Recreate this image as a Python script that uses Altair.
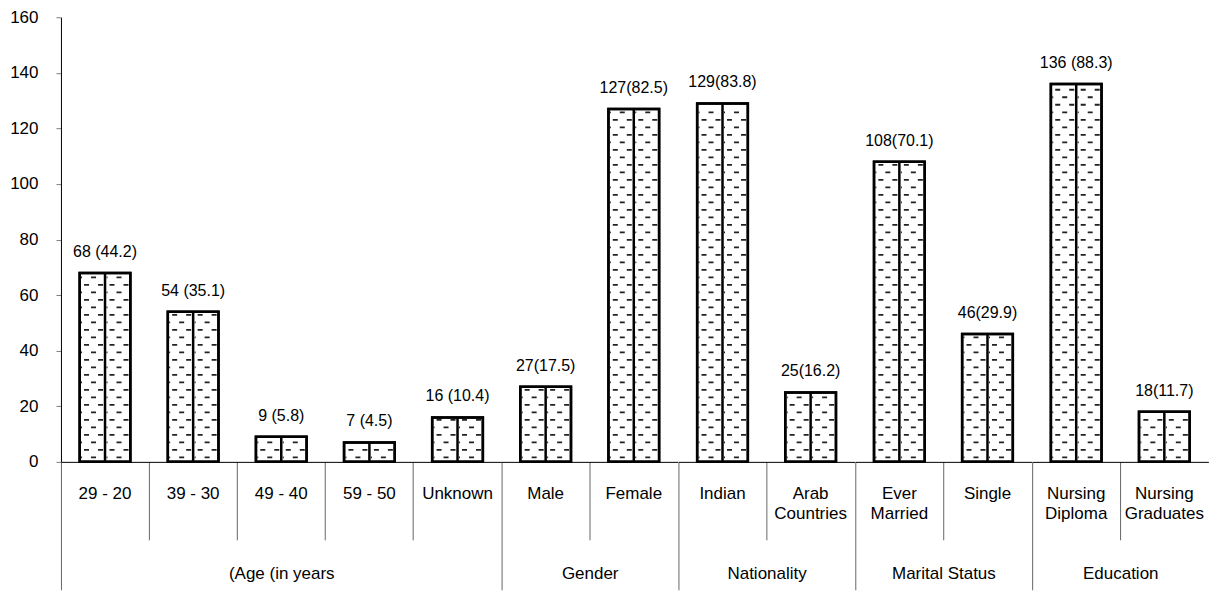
import altair as alt
import pandas as pd

categories = ["29 - 20", "39 - 30", "49 - 40", "59 - 50", "Unknown",
              "Male", "Female", "Indian", "Arab Countries",
              "Ever Married", "Single", "Nursing Diploma", "Nursing Graduates"]
groups = ["(Age (in years"] * 5 + ["Gender"] * 2 + ["Nationality"] * 2 + \
         ["Marital Status"] * 2 + ["Education"] * 2
counts = [68, 54, 9, 7, 16, 27, 127, 129, 25, 108, 46, 136, 18]
bar_labels = ["68 (44.2)", "54 (35.1)", "9 (5.8)", "7 (4.5)", "16 (10.4)",
              "27(17.5)", "127(82.5)", "129(83.8)", "25(16.2)",
              "108(70.1)", "46(29.9)", "136 (88.3)", "18(11.7)"]
group_order = ["(Age (in years", "Gender", "Nationality", "Marital Status", "Education"]
y_ticks = [0, 20, 40, 60, 80, 100, 120, 140, 160]

df = pd.DataFrame({"cat": categories, "group": groups, "value": counts, "label": bar_labels})

FONT = "Liberation Sans, Arial, sans-serif"
STEP = 88.2
H = 445
yscale = alt.Scale(domain=[0, 160], nice=False, zero=True)
two_line = ("indexof(['Arab Countries','Ever Married','Nursing Diploma','Nursing Graduates'], "
            "datum.label) >= 0 ? split(datum.label, ' ') : datum.label")


def panel(g, first_panel):
    cats = [c for c, gg in zip(categories, groups) if gg == g]
    first = cats[0]
    test = f"datum.value == '{first}'"
    xscale = alt.Scale(paddingInner=0, paddingOuter=0)
    xaxis = alt.Axis(
        title=g, titleY=112, titleBaseline="middle", titleFont=FONT,
        titleFontSize=17, titleFontWeight="normal", titleColor="black",
        labelAngle=0, labelFont=FONT, labelFontSize=17, labelColor="black",
        labelLineHeight=20, labelExpr=two_line, labelBaseline="top",
        labelPadding={"condition": {"test": test, "value": 24 - 128}, "value": 24 - 78},
        tickSize={"condition": {"test": test, "value": 128}, "value": 78},
        tickColor="#666666", tickWidth=1, bandPosition=0,
        domainColor="black", domainWidth=1, grid=False,
    )
    X = alt.X("cat:N", sort=cats, scale=xscale, axis=xaxis)
    if first_panel:
        yaxis = alt.Axis(title=None, values=y_ticks, labelFont=FONT, labelFontSize=17,
                         labelColor="black", tickSize=5, tickColor="#808080",
                         labelPadding=18, domainColor="black", grid=False)
    else:
        yaxis = None

    def Yf(field):
        return alt.Y(field, scale=yscale, axis=yaxis)

    base = alt.Chart().transform_filter(alt.datum.group == g)

    bars = base.mark_bar(fill="white", stroke="black", strokeWidth=2.5,
                         width={"band": 0.575}).encode(x=X, y=Yf("value:Q"))

    def dashes(start, off, x0, x1):
        return base.transform_calculate(
            r=f"sequence({start}, datum.value - 0.8, 5.4)"
        ).transform_flatten(["r"]).mark_rule(
            xOffset=x0, x2Offset=x1, strokeDash=[5, 9], strokeDashOffset=off,
            color="#222222", strokeWidth=1.8
        ).encode(x=X, x2="cat:N", y=Yf("r:Q"))

    dl = [dashes(1.6, 4, -24, -1.5), dashes(1.6, 4, 1.5, 24),
          dashes(4.3, 11, -24, -1.5), dashes(4.3, 11, 1.5, 24)]

    divider = base.mark_rule(color="black", strokeWidth=2.5).encode(
        x=X, y=Yf("value:Q"), y2=alt.datum(0))

    outline = base.mark_bar(fillOpacity=0, stroke="black", strokeWidth=2.5,
                            width={"band": 0.575}).encode(x=X, y=Yf("value:Q"))

    text = base.mark_text(font=FONT, fontSize=16, color="black", baseline="alphabetic",
                          dy=-16).encode(x=X, y=Yf("value:Q"), text="label:N")

    return alt.layer(bars, *dl, divider, outline, text).properties(
        width=alt.Step(STEP), height=H)


panels = [panel(g, i == 0) for i, g in enumerate(group_order)]

chart = alt.hconcat(*panels, data=df, spacing=0, bounds="flush").resolve_scale(
    x="independent"
).properties(
    padding={"left": 1, "top": 0, "right": 0, "bottom": 0},
    background="white",
).configure_view(stroke="transparent", strokeWidth=0)

chart.save("out.html", embed_options={"renderer": "svg", "actions": False})
